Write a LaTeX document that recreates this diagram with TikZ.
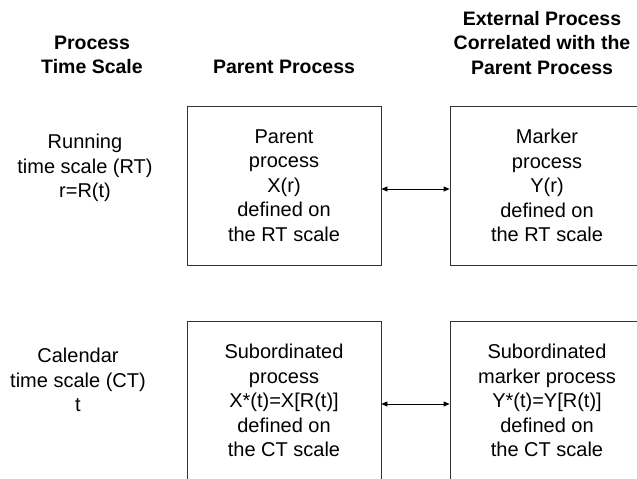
\documentclass[tikz,border=0pt]{standalone}
\usepackage{fontspec}
\setmainfont{Liberation Sans}
\usepackage{tikz}
\usetikzlibrary{arrows.meta}

\begin{document}
\begin{tikzpicture}[x=1pt, y=-1pt,
    head/.style={font=\fontsize{19.5}{24.5}\selectfont\bfseries, align=center, inner sep=0pt},
    label/.style={font=\fontsize{20}{24.5}\selectfont, align=center, inner sep=0pt},
    procbox/.style={draw=black!80, line width=0.8pt, minimum width=194pt, minimum height=159pt,
        font=\fontsize{20}{24.5}\selectfont, align=center, inner sep=0pt},
    link/.style={line width=0.8pt, {Triangle[length=6pt,width=5pt]}-{Triangle[length=6pt,width=5pt]}}]

    \useasboundingbox (0, 0) rectangle (637, 479);
    \clip (0, 0) rectangle (637, 479);

    % column headings
    \node[head] (hTime) at (92, 55) {Process\\Time Scale};
    \node[head] (hParent) at (284, 67) {Parent Process};
    \node[head] (hExt) at (542, 43) {External Process\\Correlated with the\\Parent Process};

    % row labels
    \node[label] (rRun) at (85, 168) {Running\\time scale (RT)\\r=R(t)};
    \node[label] (rCal) at (78, 380) {Calendar\\time scale (CT)\\t};

    % running time scale row
    \node[procbox] (pX) at (284, 185.5) {Parent\\process\\X(r)\\defined on\\the RT scale};
    \node[procbox] (pY) at (547, 185.5) {Marker\\process\\Y(r)\\defined on\\the RT scale};
    \draw[link] ([yshift=-3.5pt]pX.east) -- ([yshift=-3.5pt]pY.west);

    % calendar time scale row
    \node[procbox] (sX) at (284, 400.5) {Subordinated\\process\\X*(t)=X[R(t)]\\defined on\\the CT scale};
    \node[procbox] (sY) at (547, 400.5) {Subordinated\\marker process\\Y*(t)=Y[R(t)]\\defined on\\the CT scale};
    \draw[link] ([yshift=-3.5pt]sX.east) -- ([yshift=-3.5pt]sY.west);

\end{tikzpicture}
\end{document}
